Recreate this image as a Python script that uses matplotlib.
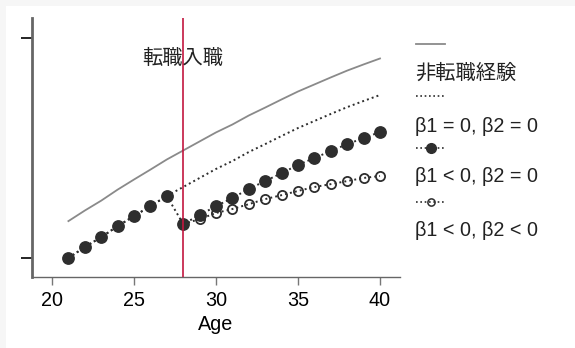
import matplotlib
matplotlib.use("Agg")
import matplotlib.pyplot as plt
from matplotlib.patches import Rectangle

plt.rcParams["font.family"] = ["Liberation Sans", "Noto Sans CJK JP", "DejaVu Sans"]

# 年齢
ages = list(range(21, 41))
ages_after = list(range(28, 41))
entry_age = 28

# 非転職経験
no_change = [0.168, 0.216, 0.261, 0.311, 0.357, 0.402, 0.448, 0.489, 0.530, 0.571,
             0.607, 0.648, 0.684, 0.721, 0.757, 0.789, 0.821, 0.852, 0.880, 0.907]
# β1 = 0, β2 = 0
b1_0_b2_0 = [0.000, 0.050, 0.095, 0.145, 0.191, 0.236, 0.282, 0.323, 0.364, 0.405,
             0.441, 0.482, 0.518, 0.555, 0.591, 0.623, 0.655, 0.686, 0.714, 0.741]
# β1 < 0, β2 = 0
b1_neg_b2_0 = [0.000, 0.050, 0.095, 0.145, 0.191, 0.236, 0.282, 0.155, 0.195, 0.236,
               0.273, 0.314, 0.350, 0.386, 0.423, 0.455, 0.486, 0.518, 0.545, 0.573]
# β1 < 0, β2 < 0 (28歳以降)
b1_neg_b2_neg = [0.155, 0.177, 0.205, 0.223, 0.245, 0.268, 0.286, 0.305, 0.323,
                 0.336, 0.350, 0.364, 0.373]

xticks = [20, 25, 30, 35, 40]
yticks = [0, 1]

legend_labels = ["非転職経験", "β1 = 0, β2 = 0", "β1 < 0, β2 = 0", "β1 < 0, β2 < 0"]

W, H = 575, 348
fig = plt.figure(figsize=(W / 100, H / 100), dpi=100, facecolor="#f6f6f6")
fig.patches.append(Rectangle((6 / W, 0), 1, 1 - 6 / H, transform=fig.transFigure,
                             facecolor="white", edgecolor="none", zorder=-5))

ax = fig.add_axes([32 / W, 71 / H, 368 / W, 259 / H])
ax.set_facecolor("none")

dark = "#2e2e2e"
dots = (0, (1.0, 1.6))

ax.plot(ages, no_change, color="#8a8a8a", lw=1.3, zorder=2)
ax.plot(ages, b1_0_b2_0, color=dark, lw=1.4, ls=dots, zorder=2)
ax.plot(ages_after, b1_neg_b2_neg, color=dark, lw=1.4, ls=dots, marker="o",
        ms=6.6, mfc="none", mec=dark, mew=1.3, zorder=3)
ax.plot(ages, b1_neg_b2_0, color=dark, lw=1.4, ls=dots, marker="o",
        ms=8.2, mfc=dark, mec=dark, zorder=4)

ax.axvline(entry_age, color="#c2163f", lw=1.2, zorder=5)
ax.text(entry_age, 0.905, "転職入職", ha="center", va="center", fontsize=14.6,
        family=["Noto Sans CJK JP"], color="#222222", zorder=6)

ax.set_xlim(18.78, 41.22)
ax.set_ylim(-0.086, 1.091)
ax.set_xticks(xticks)
ax.set_yticks(yticks)
ax.set_yticklabels([])
ax.tick_params(axis="x", length=6, width=1, color="#777777", labelsize=14.2, pad=4)
ax.tick_params(axis="y", length=8, width=1.2, color="black")
ax.set_xlabel("Age", fontsize=14.2, labelpad=4)

for side in ["top", "right"]:
    ax.spines[side].set_visible(False)
ax.spines["left"].set_color("#666666")
ax.spines["left"].set_linewidth(2)
ax.spines["bottom"].set_color("#666666")
ax.spines["bottom"].set_linewidth(1)

# 凡例（キーを上、ラベルを下に並べる）
lg = fig.add_axes([0, 0, 1, 1])
lg.set_xlim(0, W)
lg.set_ylim(H, 0)
lg.axis("off")

kx = [416, 445]
lg.plot(kx, [44, 44], color="#8a8a8a", lw=1.3)
lg.plot(kx, [96, 96], color=dark, lw=1.2, ls=dots)
lg.plot(kx, [148, 148], color=dark, lw=1.2, ls=dots)
lg.plot([430.5], [148], "o", ms=7, color=dark)
lg.plot(kx, [202, 202], color=dark, lw=1.2, ls=dots)
lg.plot([430.5], [202], "o", ms=5.2, mfc="none", mec=dark, mew=1.1)

label_y = [73, 126, 177, 230]
for i, (txt, y) in enumerate(zip(legend_labels, label_y)):
    if i == 0:
        lg.text(415, y, txt, fontsize=14.6, va="center", ha="left",
                family=["Noto Sans CJK JP"], color="#222222")
    else:
        lg.text(415, y, txt, fontsize=14.2, va="center", ha="left", color="#222222")

fig.savefig("out.png", dpi=100, facecolor=fig.get_facecolor())
